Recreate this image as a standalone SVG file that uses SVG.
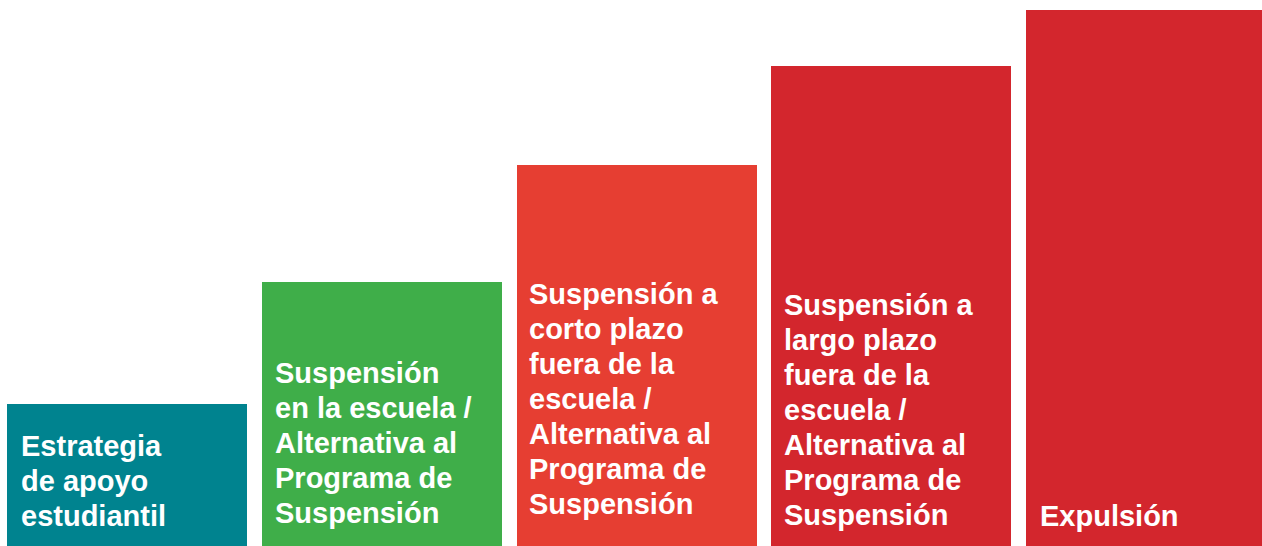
<svg xmlns="http://www.w3.org/2000/svg" width="1262" height="546" viewBox="0 0 1262 546">
<style>
text{font-family:"Liberation Sans",Arial,sans-serif;font-weight:bold;font-size:29px;fill:#ffffff}
</style>
<rect width="1262" height="546" fill="#ffffff"/>
<g id="node-1">
<rect x="7" y="404" width="240" height="142" fill="#00838F"/>
<text x="21" y="456">Estrategia</text>
<text x="21" y="491">de apoyo</text>
<text x="21" y="526">estudiantil</text>
</g>
<g id="node-2">
<rect x="262" y="282" width="240" height="264" fill="#3FAE49"/>
<text x="275" y="383">Suspensión</text>
<text x="275" y="418">en la escuela /</text>
<text x="275" y="453">Alternativa al</text>
<text x="275" y="488">Programa de</text>
<text x="275" y="523">Suspensión</text>
</g>
<g id="node-3">
<rect x="517" y="165" width="240" height="381" fill="#E63E32"/>
<text x="529" y="304">Suspensión a</text>
<text x="529" y="339">corto plazo</text>
<text x="529" y="374">fuera de la</text>
<text x="529" y="409">escuela /</text>
<text x="529" y="444">Alternativa al</text>
<text x="529" y="479">Programa de</text>
<text x="529" y="514">Suspensión</text>
</g>
<g id="node-4">
<rect x="771" y="66" width="240" height="480" fill="#D3262D"/>
<text x="784" y="315">Suspensión a</text>
<text x="784" y="350">largo plazo</text>
<text x="784" y="385">fuera de la</text>
<text x="784" y="420">escuela /</text>
<text x="784" y="455">Alternativa al</text>
<text x="784" y="490">Programa de</text>
<text x="784" y="525">Suspensión</text>
</g>
<g id="node-5">
<rect x="1026" y="10" width="236" height="536" fill="#D3262D"/>
<text x="1040" y="526">Expulsión</text>
</g>
<g id="connectors"></g>
</svg>
